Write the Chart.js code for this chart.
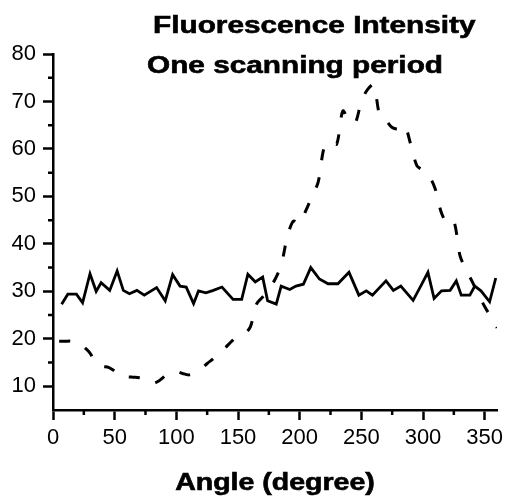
<!DOCTYPE html>
<html>
<head>
<meta charset="utf-8">
<script src="https://cdn.jsdelivr.net/npm/chart.js@4"></script>
<style>
  body { margin: 0; background: #fff; }
  #wrap { width: 512px; height: 500px; }
</style>
</head>
<body>
<div id="wrap"><canvas id="chart" width="512" height="500"></canvas></div>
<script>
const solidAngle = [7, 12, 19, 24, 30, 35, 39, 46, 52, 57, 62, 68, 74, 84, 91, 97, 103, 108, 114, 118,
  124, 130, 137, 146, 153, 158, 164, 170, 174, 181, 185, 192, 197, 203, 209, 216, 223, 231, 240, 248,
  254, 259, 270, 276, 282, 292, 299, 304, 309, 315, 322, 327, 331, 338, 342, 347, 354, 359];
const solidValue = [27.3, 29.4, 29.4, 27.6, 33.7, 30, 31.8, 30.2, 34.3, 30.2, 29.5, 30.2, 29.2, 30.8, 28, 33.5, 31.1, 30.9, 27.4, 30.1,
  29.7, 30.2, 30.9, 28.3, 28.3, 33.6, 32, 33, 28, 27.3, 31.1, 30.4, 31.1, 31.5, 35, 32.6, 31.6, 31.6, 34, 29.2,
  30.1, 29.2, 32.2, 30.2, 31.1, 28.1, 31.5, 34, 28.5, 30.1, 30.2, 32.2, 29.2, 29.2, 31.1, 30.1, 27.8, 32.8];

const dashAngle = [5, 10, 15, 20, 25, 30, 35, 40, 45, 50, 55, 60, 65, 70, 75, 80, 85, 90, 95, 100,
  105, 110, 115, 120, 125, 130, 135, 140, 145, 150, 155, 160, 165, 170, 175, 180, 185, 190, 195, 200,
  205, 210, 215, 220, 225, 230, 235, 240, 245, 250, 255, 260, 265, 270, 275, 280, 285, 290, 295, 300,
  305, 310, 315, 320, 325, 330, 335, 340, 345, 350, 355, 360];
const dashValue = [19.5, 19.5, 19.5, 19.3, 18.3, 17, 14.8, 14.2, 14, 13.2, 12, 12, 11.9, 11.8, 11.5, 10.6, 11, 12, 13, 13.1,
  12.7, 12.4, 12.8, 13.6, 14.8, 15.8, 17, 18.2, 19.5, 20.6, 21, 22.5, 27.3, 28.8, 30.5, 32.5, 35.5, 41.5, 44.8, 44.2,
  47, 50, 53, 60.5, 61.5, 61, 68, 66, 65.5, 70, 72.5, 73.5, 67, 66, 64.5, 64.2, 65, 61, 56.5, 55.5,
  54.3, 51.5, 46.5, 44.3, 44.8, 37.5, 34.5, 32, 29.3, 26.8, 24.6, 22.3];

const xTicks = [0, 50, 100, 150, 200, 250, 300, 350];
const xMinor = [25, 75, 125, 175, 225, 275, 325];
const yTicks = [10, 20, 30, 40, 50, 60, 70, 80];
const yMinor = [15, 25, 35, 45, 55, 65, 75];

const titleLines = ['Fluorescence Intensity', 'One scanning period'];
const xTitle = 'Angle (degree)';

const toPoints = (xs, ys) => xs.map((x, i) => ({ x: x, y: ys[i] }));

const extras = {
  id: 'extras',
  afterDraw(chart) {
    const ctx = chart.ctx;
    const xs = chart.scales.x, ys = chart.scales.y;
    const area = chart.chartArea;
    ctx.save();
    ctx.strokeStyle = '#000';
    ctx.lineWidth = 2.5;
    ctx.beginPath();
    xMinor.forEach(v => {
      const px = xs.getPixelForValue(v);
      ctx.moveTo(px, area.bottom);
      ctx.lineTo(px, area.bottom + 5);
    });
    yMinor.forEach(v => {
      const py = ys.getPixelForValue(v);
      ctx.moveTo(area.left, py);
      ctx.lineTo(area.left - 5, py);
    });
    ctx.stroke();

    // bold titles, stretched wide like the scan
    const sx = 1.24;
    ctx.fillStyle = '#000';
    ctx.lineWidth = 0.6;
    ctx.textBaseline = 'alphabetic';
    ctx.font = 'bold 24px "Liberation Sans", Arial, sans-serif';
    ctx.save();
    ctx.scale(sx, 1);
    ctx.textAlign = 'left';
    ctx.fillText(titleLines[0], 153 / sx, 33);
    ctx.strokeText(titleLines[0], 153 / sx, 33);
    ctx.fillText(titleLines[1], 147 / sx, 73);
    ctx.strokeText(titleLines[1], 147 / sx, 73);
    ctx.font = 'bold 23px "Liberation Sans", Arial, sans-serif';
    ctx.textAlign = 'center';
    const cx = ((area.left + area.right) / 2) / sx;
    ctx.fillText(xTitle, cx, 490);
    ctx.strokeText(xTitle, cx, 490);
    ctx.restore();
    ctx.restore();
  }
};

new Chart(document.getElementById('chart'), {
  type: 'line',
  data: {
    datasets: [{
      label: 'Solid',
      data: toPoints(solidAngle, solidValue),
      borderColor: '#000',
      borderWidth: 2.8,
      pointRadius: 0,
      tension: 0
    }, {
      label: 'Dashed',
      data: toPoints(dashAngle, dashValue),
      borderColor: '#000',
      borderWidth: 3,
      borderDash: [11, 17],
      pointRadius: 0,
      tension: 0.3
    }]
  },
  plugins: [extras],
  options: {
    responsive: false,
    animation: false,
    layout: { padding: { top: 54, right: 15, left: 0, bottom: 0 } },
    plugins: { legend: { display: false }, tooltip: { enabled: false } },
    scales: {
      x: {
        type: 'linear',
        min: 0,
        max: 360,
        afterBuildTicks: s => { s.ticks = xTicks.map(v => ({ value: v })); },
        afterFit: s => { s.height = 90; },
        border: { display: true, color: '#000', width: 2.5 },
        grid: { drawOnChartArea: false, drawTicks: true, tickLength: 10, tickWidth: 2.5, tickColor: '#000' },
        ticks: { color: '#000', padding: 5, maxRotation: 0, font: { family: '"Liberation Sans", Arial, sans-serif', size: 22 } }
      },
      y: {
        min: 5,
        max: 80,
        afterBuildTicks: s => { s.ticks = yTicks.map(v => ({ value: v })); },
        afterFit: s => { s.width = 53; },
        border: { display: true, color: '#000', width: 2.5 },
        grid: { drawOnChartArea: false, drawTicks: true, tickLength: 10, tickWidth: 2.5, tickColor: '#000' },
        ticks: { color: '#000', padding: 7, font: { family: '"Liberation Sans", Arial, sans-serif', size: 22 } }
      }
    }
  }
});
</script>
</body>
</html>
